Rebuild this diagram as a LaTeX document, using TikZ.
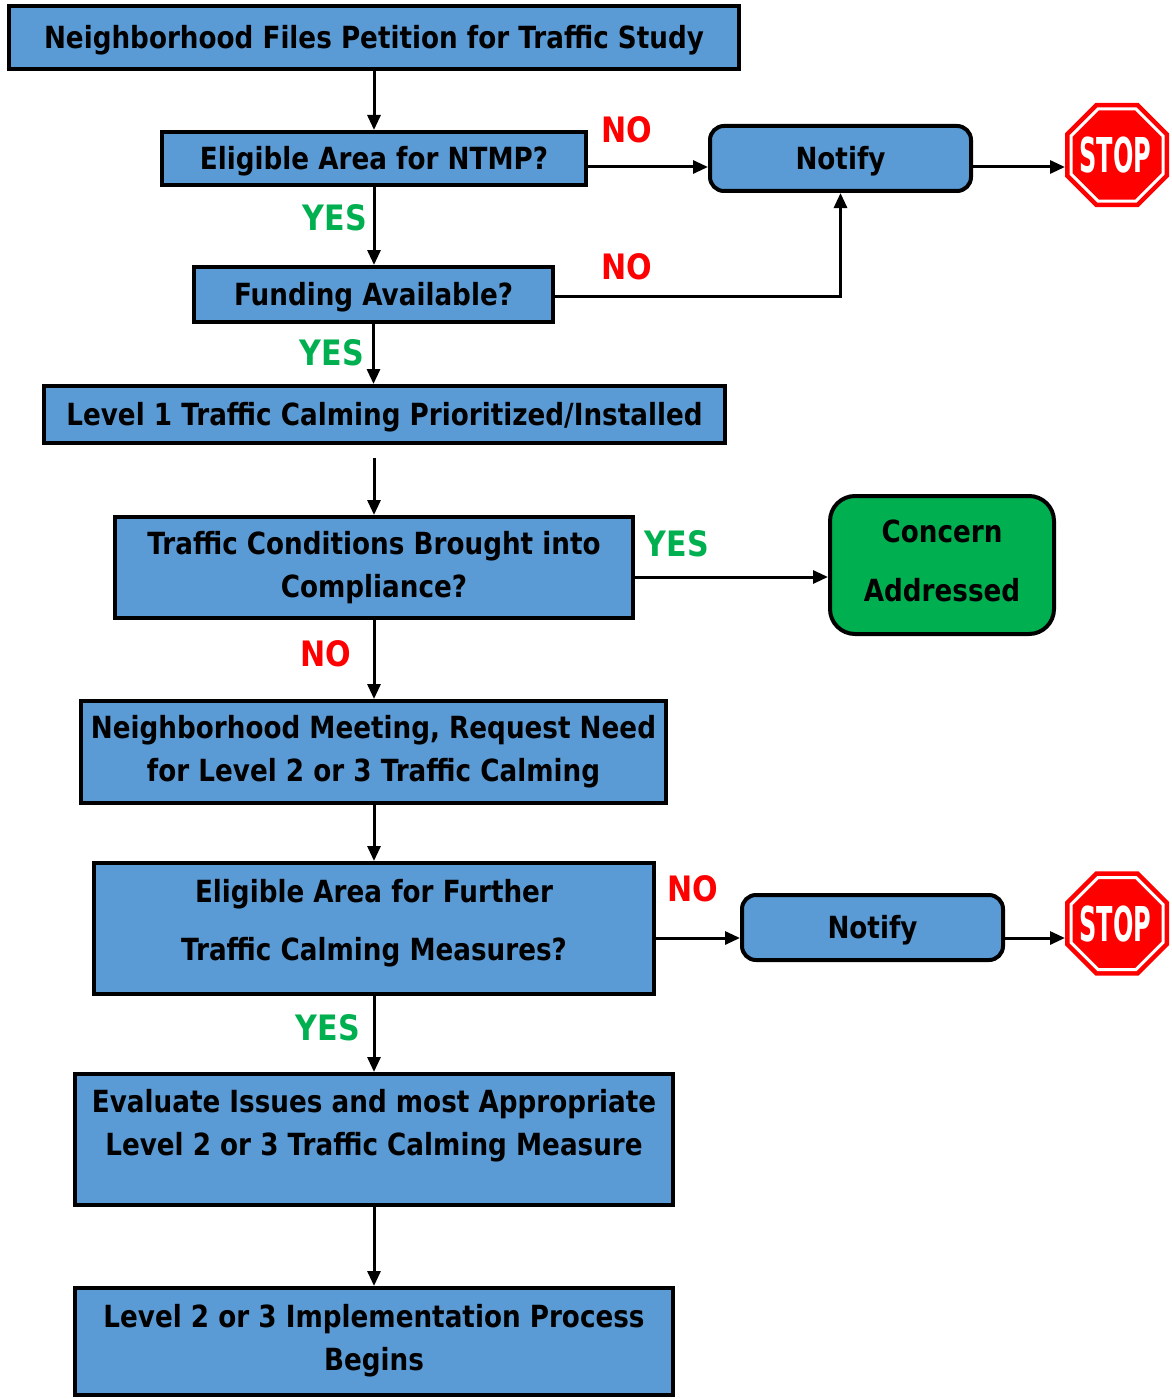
\documentclass[tikz,border=0pt]{standalone}
\usepackage{fontspec}
\setmainfont{DejaVu Sans}[FakeStretch=0.86]
\newfontfamily\stopfont{DejaVu Sans}[FakeStretch=0.5]
\usetikzlibrary{arrows.meta}
\definecolor{boxblue}{HTML}{5B9BD5}
\definecolor{okgreen}{HTML}{00B050}
\definecolor{nored}{HTML}{FF0000}
\tikzset{
  box/.style={draw=black, line width=4pt, fill=boxblue, inner sep=0pt, align=center,
    font=\fontsize{30.5}{43}\selectfont\bfseries},
  oneline/.style={text height=22pt, text depth=0pt},
  rbox/.style={box, oneline, rounded corners=14pt},
  txt/.style={inner sep=0pt, align=center, font=\fontsize{30.5}{43}\selectfont\bfseries},
  arr/.style={line width=3pt, -{Triangle[length=15pt,width=13pt]}},
  nolab/.style={text=nored, inner sep=0pt, font=\fontsize{35}{38}\selectfont\bfseries},
  yeslab/.style={text=okgreen, inner sep=0pt, font=\fontsize{35}{38}\selectfont\bfseries},
  stopspot/.style={circle, minimum size=104pt, inner sep=0pt, outer sep=0pt},
  stoptext/.style={inner sep=0pt, text=white, text height=35pt, text depth=0pt, font=\stopfont\fontsize{48}{48}\selectfont\bfseries}
}
\newcommand{\stopsign}[1]{%
  \fill[nored, shift={(#1)}] (22.5:56.3) -- (67.5:56.3) -- (112.5:56.3) -- (157.5:56.3) -- (202.5:56.3) -- (247.5:56.3) -- (292.5:56.3) -- (337.5:56.3) -- cycle;
  \draw[white, line width=3pt, shift={(#1)}] (22.5:49.8) -- (67.5:49.8) -- (112.5:49.8) -- (157.5:49.8) -- (202.5:49.8) -- (247.5:49.8) -- (292.5:49.8) -- (337.5:49.8) -- cycle;
}
\begin{document}
\begin{tikzpicture}[x=1pt,y=-1pt]
\useasboundingbox (0,0) rectangle (1171,1399);
% boxes
\node[box, oneline, minimum width=730pt, minimum height=63pt] (top) at (374,37.5) {Neighborhood Files Petition for Traffic Study};
\node[box, oneline, minimum width=424pt, minimum height=53pt] (e1) at (374,158.5) {Eligible Area for NTMP?};
\node[rbox, minimum width=261pt, minimum height=65pt] (n1) at (840.5,158.5) {Notify};
\node[stopspot] (s1) at (1117,155) {};
\stopsign{s1}
\node[stoptext] (s1t) at (1115.5,155) {STOP};
\node[box, oneline, minimum width=359pt, minimum height=55pt] (f) at (373.5,294.5) {Funding Available?};
\node[box, oneline, minimum width=681pt, minimum height=57pt] (l1) at (384.5,414.5) {Level 1 Traffic Calming Prioritized/Installed};
\node[box, minimum width=518pt, minimum height=101pt] (tc) at (374,567.5) {Traffic Conditions Brought into\\Compliance?};
\node[box, rounded corners=25pt, fill=okgreen, minimum width=224pt, minimum height=138pt] (ca) at (942,565) {};
\node[txt, font=\fontsize{30.5}{59}\selectfont\bfseries] (cat) at (942,560.5) {Concern\\Addressed};
\node[box, minimum width=585pt, minimum height=102pt] (m) at (373.5,752) {Neighborhood Meeting, Request Need\\for Level 2 or 3 Traffic Calming};
\node[box, minimum width=560pt, minimum height=131pt] (e2) at (374,928.5) {};
\node[txt, font=\fontsize{30.5}{58}\selectfont\bfseries] (e2t) at (374,923) {Eligible Area for Further\\Traffic Calming Measures?};
\node[rbox, minimum width=261pt, minimum height=65pt] (n2) at (872.5,927.5) {Notify};
\node[stopspot] (s2) at (1117,923.5) {};
\stopsign{s2}
\node[stoptext] (s2t) at (1115.5,923.5) {STOP};
\node[box, minimum width=598pt, minimum height=131pt] (ev) at (374,1139.5) {};
\node[txt] (evt) at (374,1126) {Evaluate Issues and most Appropriate\\Level 2 or 3 Traffic Calming Measure};
\node[box, minimum width=598pt, minimum height=107pt] (fin) at (374,1341.5) {};
\node[txt] (fint) at (374,1340.5) {Level 2 or 3 Implementation Process\\Begins};
% helper coordinates
\coordinate (r1) at (0,167);
\coordinate (r2) at (0,938);
\coordinate (r3) at (0,577);
\coordinate (gap) at (374,458);
% arrows
\draw[arr] (top.south) -- (e1.north);
\draw[arr] (e1.east |- r1) -- (n1.west |- r1);
\draw[arr] (n1.east |- r1) -- (s1.west |- r1);
\draw[arr] (e1.south) -- (f.north -| e1.south);
\draw[arr] ([yshift=-2pt]f.east) -| (n1.south);
\draw[arr] (f.south) -- (f.south |- l1.north);
\draw[arr] (gap) -- (tc.north);
\draw[arr] (tc.east |- r3) -- (ca.west |- r3);
\draw[arr] (tc.south) -- (m.north -| tc.south);
\draw[arr] (m.south -| e2.north) -- (e2.north);
\draw[arr] (e2.east |- r2) -- (n2.west |- r2);
\draw[arr] (n2.east |- r2) -- (s2.west |- r2);
\draw[arr] (e2.south) -- (ev.north);
\draw[arr] (ev.south) -- (fin.north);
% labels
\node[nolab] (no1) at (627,130) {NO};
\node[yeslab] (yes1) at (335,218) {YES};
\node[nolab] (no2) at (627,267) {NO};
\node[yeslab] (yes2) at (332,353) {YES};
\node[yeslab] (yes3) at (677,544) {YES};
\node[nolab] (no3) at (326,654) {NO};
\node[nolab] (no4) at (693,889) {NO};
\node[yeslab] (yes4) at (328,1028) {YES};
\end{tikzpicture}
\end{document}
